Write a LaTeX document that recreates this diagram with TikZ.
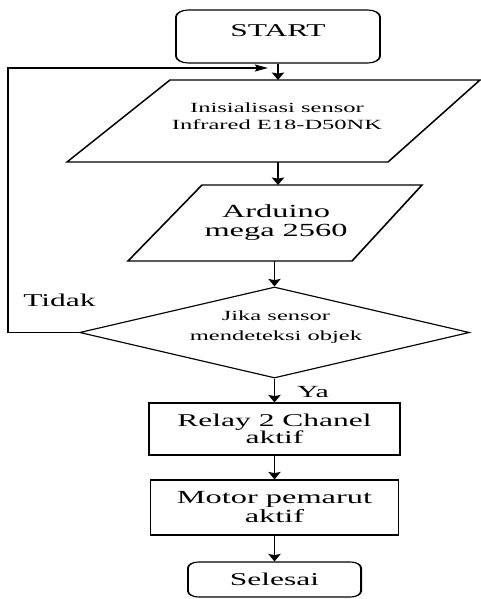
\documentclass[tikz,border=0pt]{standalone}
\usepackage{fontspec}
\setmainfont{Liberation Serif}
\usetikzlibrary{shapes.geometric,arrows.meta}
\begin{document}
\begin{tikzpicture}[x=1pt,y=-1pt]
\useasboundingbox (0,0) rectangle (481,599);
\begin{scope}[transform canvas={xscale=1.75},x=0.571429pt,y=-1pt,line width=1.1pt,
  >={Stealth[length=7.5pt,width=7pt,inset=1.2pt]},
  flow/.style={->},
  term/.style={draw,rounded corners=7pt,inner sep=0pt,align=center},
  proc/.style={draw,inner sep=0pt,align=center},
  txt/.style={inner sep=0pt,align=center},
  bigf/.style={font=\fontsize{18}{19}\selectfont},
  smallf/.style={font=\fontsize{14}{17}\selectfont}]
% terminator START
\node[term,bigf,minimum width=116.6pt,minimum height=53pt,text depth=11pt] (start) at (278,36.5) {START};
% parallelogram 1
\coordinate (p1a) at (170,80);
\coordinate (p1b) at (480,80);
\coordinate (p1c) at (388,162);
\coordinate (p1d) at (67,162);
\draw (p1a) -- (p1b) -- (p1c) -- (p1d) -- cycle;
\coordinate (p1top) at (278,80);
\coordinate (p1bot) at (278,162);
\node[txt,smallf] (init) at (277,116.5) {Inisialisasi sensor\\Infrared E18-D50NK};
% parallelogram 2
\coordinate (p2a) at (202,185);
\coordinate (p2b) at (422,185);
\coordinate (p2c) at (352,261);
\coordinate (p2d) at (128,261);
\draw (p2a) -- (p2b) -- (p2c) -- (p2d) -- cycle;
\coordinate (p2top) at (278,185);
\coordinate (p2bot) at (274.5,261);
\node[txt,font=\fontsize{18.5}{19}\selectfont] (ard) at (276,222.5) {Arduino\\mega 2560};
% decision
\node[draw,diamond,aspect=2.45,minimum width=222.9pt,minimum height=91pt,inner sep=0pt] (dia) at (274.5,332.5) {};
\node[txt,font=\fontsize{14}{20}\selectfont] (diat) at (276,327) {Jika sensor\\mendeteksi objek};
% process boxes
\node[proc,minimum width=143.4pt,minimum height=52pt,font=\fontsize{18}{16}\selectfont] (relay) at (274.5,429) {Relay 2 Chanel\\aktif};
\node[proc,minimum width=141.7pt,minimum height=55pt,font=\fontsize{18.5}{19}\selectfont] (motor) at (274.5,507.5) {Motor pemarut\\aktif};
\node[term,bigf,rounded corners=6pt,minimum width=98.9pt,minimum height=35pt] (end) at (274.5,579.5) {Selesai};
% labels
\node[txt,bigf] (tidak) at (59.5,300) {Tidak};
\node[txt,font=\fontsize{17}{18}\selectfont] (ya) at (313,392) {Ya};
% connectors
\draw[flow] (start) -- (p1top);
\draw[flow] (p1bot) -- (p2top);
\draw[flow] (p2bot) -- (dia.north);
\draw[flow] (dia.south) -- (relay.north);
\draw[flow] (relay.south) -- (motor.north);
\draw[flow] (motor.south) -- (end.north);
\coordinate (fbL) at (8,332.5);
\coordinate (fbT) at (8,68);
\coordinate (fbE) at (268,68);
\draw[flow] (dia.west) -- (fbL) -- (fbT) -- (fbE);
\end{scope}
\end{tikzpicture}
\end{document}
